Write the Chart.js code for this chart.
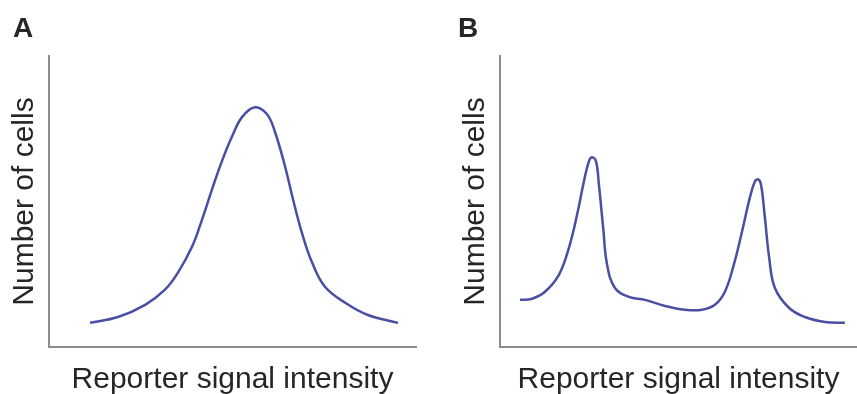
<!DOCTYPE html>
<html>
<head>
<meta charset="utf-8">
<script src="https://cdn.jsdelivr.net/npm/chart.js@4"></script>
<style>
  body { margin: 0; background: #fff; }
  #wrap { position: relative; width: 857px; height: 394px; }
  canvas { position: absolute; top: 0; }
  #chartA { left: 0; }
  #chartB { left: 430px; }
</style>
</head>
<body>
<div id="wrap">
  <canvas id="chartA" width="430" height="394"></canvas>
  <canvas id="chartB" width="427" height="394"></canvas>
</div>
<script>
// Panel A - one population
let xA = [11.2, 18.8, 26.2, 31.6, 35.1, 39.0, 41.7, 44.4, 47.1, 49.9, 52.6, 56.1, 59.4, 61.6, 64.3, 66.5, 68.9, 71.7, 75.2, 80.7, 86.9, 95.1];
let yA = [8.3, 10.3, 14.5, 19.7, 25.5, 34.5, 43.8, 54.1, 63.8, 72.4, 79.0, 82.4, 80.0, 73.8, 62.1, 50.7, 39.3, 29.0, 20.7, 15.2, 11.0, 8.3];

// Panel B - two populations
let xB = [5.6, 9.0, 12.6, 16.5, 19.3, 21.6, 23.5, 24.9, 25.8, 26.9, 27.7, 28.9, 30.0, 32.2, 36.1, 40.6, 46.2, 51.8, 56.6, 60.2, 63.0, 65.5, 67.8, 70.0, 71.4, 72.3, 73.1, 74.2, 75.4, 77.0, 81.0, 85.4, 91.0, 96.6];
let yB = [16.2, 16.6, 19.0, 24.8, 34.1, 45.5, 56.9, 63.8, 65.2, 63.8, 55.9, 41.0, 28.3, 20.3, 17.2, 16.2, 14.1, 12.8, 12.8, 14.5, 19.0, 28.3, 39.7, 51.4, 56.9, 57.6, 55.9, 44.5, 30.7, 20.3, 13.4, 10.3, 8.6, 8.3];

let xTitle = "Reporter signal intensity";
let yTitle = "Number of cells";

let lineColor = "#4a4fa3";
let axisColor = "#8c8c8c";
let textColor = "#262626";
let fontFamily = "'Liberation Sans', Arial, sans-serif";

// draws the panel letter in the top left corner
const panelLetter = {
	id: "panelLetter",
	afterDraw(chart, args, opts) {
		let ctx = chart.ctx;
		ctx.save();
		ctx.font = "bold 28px " + fontFamily;
		ctx.fillStyle = textColor;
		ctx.textBaseline = "alphabetic";
		ctx.fillText(opts.text, opts.x, opts.y);
		ctx.restore();
	}
};

function makePoints(xs, ys) {
	return xs.map((x, i) => ({ x: x, y: ys[i] }));
}

function makeChart(id, xs, ys, letter, letterX, yAxisWidth, yTitlePad, rightPad) {
	let ctx = document.getElementById(id).getContext("2d");
	return new Chart(ctx, {
		type: "line",
		data: {
			datasets: [{
				data: makePoints(xs, ys),
				borderColor: lineColor,
				borderWidth: 2.5,
				pointRadius: 0,
				fill: false,
				tension: 0.4
			}]
		},
		options: {
			responsive: false,
			animation: false,
			layout: { padding: { top: 56, right: rightPad, bottom: 0, left: 0 } },
			plugins: {
				legend: { display: false },
				tooltip: { enabled: false },
				panelLetter: { text: letter, x: letterX, y: 37 }
			},
			scales: {
				x: {
					type: "linear",
					min: 0,
					max: 100,
					ticks: { display: false },
					grid: { display: false },
					border: { color: axisColor, width: 2 },
					title: {
						display: true,
						text: xTitle,
						color: textColor,
						font: { family: fontFamily, size: 30, lineHeight: 1 },
						padding: { top: 0, bottom: -1 }
					},
					afterFit(scale) { scale.height = 47; }
				},
				y: {
					min: 0,
					max: 100,
					ticks: { display: false },
					grid: { display: false },
					border: { color: axisColor, width: 2 },
					title: {
						display: true,
						text: yTitle,
						color: textColor,
						font: { family: fontFamily, size: 30, lineHeight: 1 },
						padding: { top: yTitlePad, bottom: 0 }
					},
					afterFit(scale) { scale.width = yAxisWidth; }
				}
			}
		},
		plugins: [panelLetter]
	});
}

window.onload = function () {
	makeChart("chartA", xA, yA, "A", 13, 49, 10, 14);
	makeChart("chartB", xB, yB, "B", 28, 70, 31, 0);
};
</script>
</body>
</html>
